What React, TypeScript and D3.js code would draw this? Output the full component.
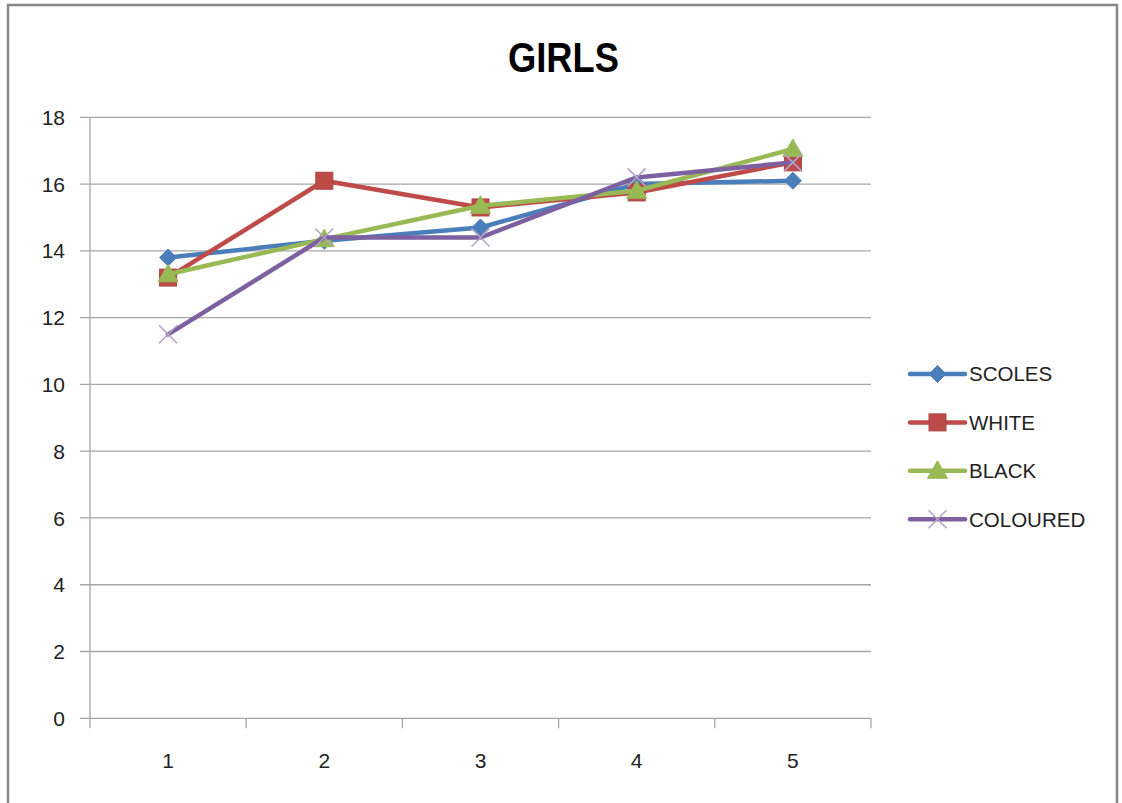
import React from "react";
import * as d3 from "d3";

const categories = ["1", "2", "3", "4", "5"];
const yTicks = [0, 2, 4, 6, 8, 10, 12, 14, 16, 18];

const scoles = [13.8, 14.3, 14.7, 16.0, 16.1];
const white = [13.2, 16.1, 15.3, 15.75, 16.65];
const black = [13.3, 14.35, 15.35, 15.8, 17.05];
const coloured = [11.5, 14.4, 14.4, 16.2, 16.65];

const seriesNames = ["SCOLES", "WHITE", "BLACK", "COLOURED"];
const seriesValues = [scoles, white, black, coloured];
const seriesColors = ["#4A7EBB", "#BE4B48", "#98B954", "#7D60A0"];
const markerKinds = ["diamond", "square", "triangle", "x"];

const W = 1122;
const H = 803;
const plot = { left: 90, right: 871, top: 117.3, bottom: 718.3 };
const FONT = "'Liberation Sans', Arial, sans-serif";

function Marker({ kind, x, y, color }: { kind: string; x: number; y: number; color: string }) {
  if (kind === "diamond") {
    const r = 8.5;
    return (
      <path
        d={`M${x},${y - r}L${x + r},${y}L${x},${y + r}L${x - r},${y}Z`}
        fill={color}
        stroke={color}
        strokeWidth={1}
      />
    );
  }
  if (kind === "square") {
    const s = 17;
    return (
      <rect
        x={x - s / 2}
        y={y - s / 2}
        width={s}
        height={s}
        fill={color}
        stroke="#A94442"
        strokeWidth={1}
      />
    );
  }
  if (kind === "triangle") {
    const r = 10;
    return (
      <path
        d={`M${x},${y - r}L${x + r},${y + r * 0.75}L${x - r},${y + r * 0.75}Z`}
        fill={color}
        stroke={color}
        strokeWidth={1}
      />
    );
  }
  const r = 9;
  return (
    <path
      d={`M${x - r},${y - r}L${x + r},${y + r}M${x - r},${y + r}L${x + r},${y - r}`}
      stroke="#B3A2C7"
      strokeWidth={1.5}
      fill="none"
    />
  );
}

export default function App() {
  const x = d3
    .scaleBand<string>()
    .domain(categories)
    .range([plot.left, plot.right]);
  const y = d3.scaleLinear().domain([0, 18]).range([plot.bottom, plot.top]);
  const cx = (c: string) => (x(c) ?? 0) + x.bandwidth() / 2;

  const line = d3
    .line<number>()
    .x((_, i) => cx(categories[i]))
    .y((d) => y(d));

  const legendX = 910;
  const legendY0 = 374;
  const legendStep = 48.4;

  return (
    <svg
      width={W}
      height={H}
      style={{ position: "absolute", left: 0, top: 0, background: "#fff" }}
    >
      <rect x={8} y={5} width={1109} height={820} fill="#fff" stroke="#878787" strokeWidth={2.5} />

      <text
        x={508}
        y={72}
        textLength={111}
        lengthAdjust="spacingAndGlyphs"
        fontFamily={FONT}
        fontWeight="bold"
        fontSize={42}
        fill="#000"
      >
        GIRLS
      </text>

      {/* horizontal gridlines and value axis ticks */}
      {yTicks.map((t) => (
        <g key={t}>
          <line x1={80} x2={plot.right} y1={y(t)} y2={y(t)} stroke="#A6A6A6" strokeWidth={1.3} />
          <text
            x={65}
            y={y(t)}
            dy="0.36em"
            textAnchor="end"
            fontFamily={FONT}
            fontSize={21}
            fill="#222"
          >
            {t}
          </text>
        </g>
      ))}

      {/* value axis line */}
      <line x1={plot.left} x2={plot.left} y1={plot.top} y2={plot.bottom + 10} stroke="#A6A6A6" strokeWidth={1.3} />

      {/* category axis ticks at band boundaries */}
      {categories.map((c, i) => (
        <line
          key={"b" + i}
          x1={(x(c) ?? 0) + x.bandwidth()}
          x2={(x(c) ?? 0) + x.bandwidth()}
          y1={plot.bottom}
          y2={plot.bottom + 10}
          stroke="#A6A6A6"
          strokeWidth={1.3}
        />
      ))}
      {categories.map((c) => (
        <text
          key={"l" + c}
          x={cx(c)}
          y={760}
          dy="0.36em"
          textAnchor="middle"
          fontFamily={FONT}
          fontSize={21}
          fill="#222"
        >
          {c}
        </text>
      ))}

      {/* series: line then markers */}
      {seriesValues.map((vals, si) => (
        <g key={seriesNames[si]}>
          <path
            d={line(vals) ?? ""}
            fill="none"
            stroke={seriesColors[si]}
            strokeWidth={4.5}
            strokeLinejoin="round"
            strokeLinecap="round"
          />
          {vals.map((v, i) => (
            <Marker
              key={i}
              kind={markerKinds[si]}
              x={cx(categories[i])}
              y={y(v)}
              color={seriesColors[si]}
            />
          ))}
        </g>
      ))}

      {/* legend */}
      {seriesNames.map((name, si) => {
        const ly = legendY0 + si * legendStep;
        return (
          <g key={"lg" + name}>
            <line
              x1={legendX}
              x2={legendX + 55}
              y1={ly}
              y2={ly}
              stroke={seriesColors[si]}
              strokeWidth={4.5}
              strokeLinecap="round"
            />
            <Marker kind={markerKinds[si]} x={legendX + 27.5} y={ly} color={seriesColors[si]} />
            <text
              x={legendX + 59}
              y={ly}
              dy="0.36em"
              fontFamily={FONT}
              fontSize={20.5}
              fill="#222"
            >
              {name}
            </text>
          </g>
        );
      })}
    </svg>
  );
}
